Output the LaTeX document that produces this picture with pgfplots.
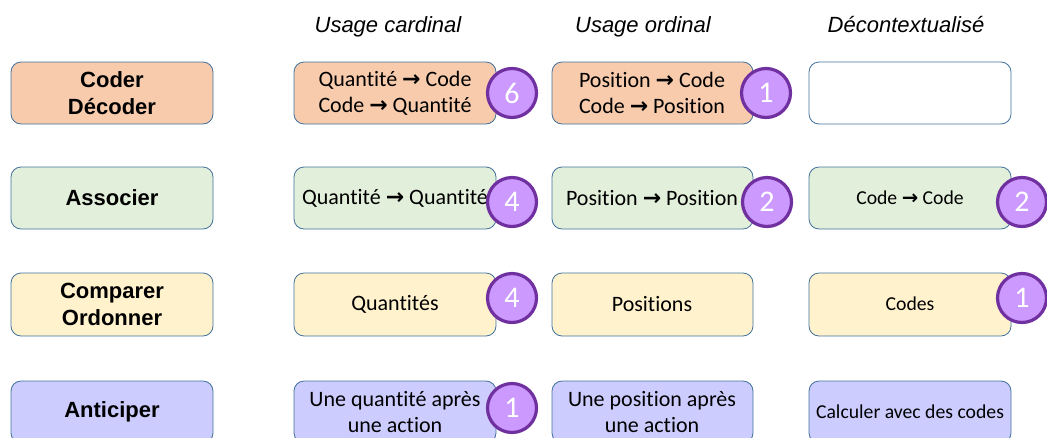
\documentclass[border=0pt]{standalone}
\usepackage{pgfplots}
\pgfplotsset{compat=1.18}
\usepackage{fontspec}
\setmainfont{Carlito}[Ligatures=NoCommon]
\newfontfamily\arial{Liberation Sans}
\newfontfamily\arrfont{DejaVu Sans}
\definecolor{orangeF}{HTML}{F8CBAD}
\definecolor{greenF}{HTML}{E2EFDA}
\definecolor{yellowF}{HTML}{FFF2CC}
\definecolor{blueF}{HTML}{CCCCFF}
\definecolor{borderC}{HTML}{41719C}
\definecolor{circF}{HTML}{CC99FF}
\definecolor{circD}{HTML}{7030A0}
\newcommand{\ar}{{\arrfont\bfseries →}}
% \rbox{x1}{y1}{x2}{y2}{fill}
\newcommand{\rbox}[5]{\draw[borderC, line width=0.8pt, fill=#5, rounded corners=10pt] (axis cs:#1,#2) rectangle (axis cs:#3,#4);}
\newcommand{\lab}[3]{\node[align=center, font=\arial\bfseries\fontsize{22}{27}\selectfont] at (axis cs:#1,#2) {#3};}
\newcommand{\txt}[3]{\node[align=center, font=\fontsize{22}{26}\selectfont] at (axis cs:#1,#2) {#3};}
\newcommand{\txs}[3]{\node[align=center, font=\fontsize{19.7}{24}\selectfont] at (axis cs:#1,#2) {#3};}
\newcommand{\hdr}[3]{\node[anchor=base, font=\arial\itshape\fontsize{22}{26}\selectfont] at (axis cs:#1,#2) {#3};}
\begin{document}
\begin{tikzpicture}
\begin{axis}[
  width=1047pt, height=437pt, scale only axis,
  xmin=0, xmax=1047, ymin=0, ymax=437, y dir=reverse,
  hide axis, clip=false,
]
% headers
\hdr{388}{32}{Usage cardinal}
\hdr{643}{32}{Usage ordinal}
\hdr{906}{32}{Décontextualisé}
% row 1
\rbox{11}{62}{213}{124}{orangeF}
\lab{112}{93}{Coder\\Décoder}
\rbox{294}{62}{496}{124}{orangeF}
\txt{395}{93}{Quantité \ar{} Code\\Code \ar{} Quantité}
\rbox{552}{62}{753}{124}{orangeF}
\txt{652}{93}{Position \ar{} Code\\Code \ar{} Position}
\rbox{809}{62}{1011}{124}{white}
% row 2
\rbox{11}{167}{213}{229}{greenF}
\lab{112}{198}{Associer}
\rbox{294}{167}{496}{229}{greenF}
\txt{395}{198}{Quantité \ar{} Quantité}
\rbox{552}{167}{753}{229}{greenF}
\txt{652}{198}{Position \ar{} Position}
\rbox{809}{167}{1011}{229}{greenF}
\txs{910}{198}{Code \ar{} Code}
% row 3
\rbox{11}{273}{213}{336}{yellowF}
\lab{112}{304}{Comparer\\Ordonner}
\rbox{294}{273}{496}{336}{yellowF}
\txt{395}{304}{Quantités}
\rbox{552}{273}{753}{336}{yellowF}
\txt{652}{304}{Positions}
\rbox{809}{273}{1011}{336}{yellowF}
\txs{910}{304}{Codes}
% row 4
\rbox{11}{381}{213}{443}{blueF}
\lab{112}{412}{Anticiper}
\rbox{294}{381}{496}{443}{blueF}
\txt{395}{412}{Une quantité après\\une action}
\rbox{552}{381}{753}{443}{blueF}
\txt{652}{412}{Une position après\\une action}
\rbox{809}{381}{1011}{443}{blueF}
\txs{910}{412}{Calculer avec des codes}
% counts
\addplot[only marks, mark=*, mark size=24.5pt,
  mark options={fill=circF, draw=circD, line width=3.2pt},
  nodes near coords, point meta=explicit symbolic,
  every node near coord/.append style={anchor=center, text=white, font=\fontsize{30}{30}\selectfont}]
  table[meta=n] {
x y n
512 93 6
766 93 1
512 202 4
767 202 2
1022 202 2
512 298 4
1022 298 1
512 408 1
};
\end{axis}
\pgfresetboundingbox
\path[use as bounding box] (0,0) rectangle (1047pt,437pt);
\end{tikzpicture}
\end{document}
